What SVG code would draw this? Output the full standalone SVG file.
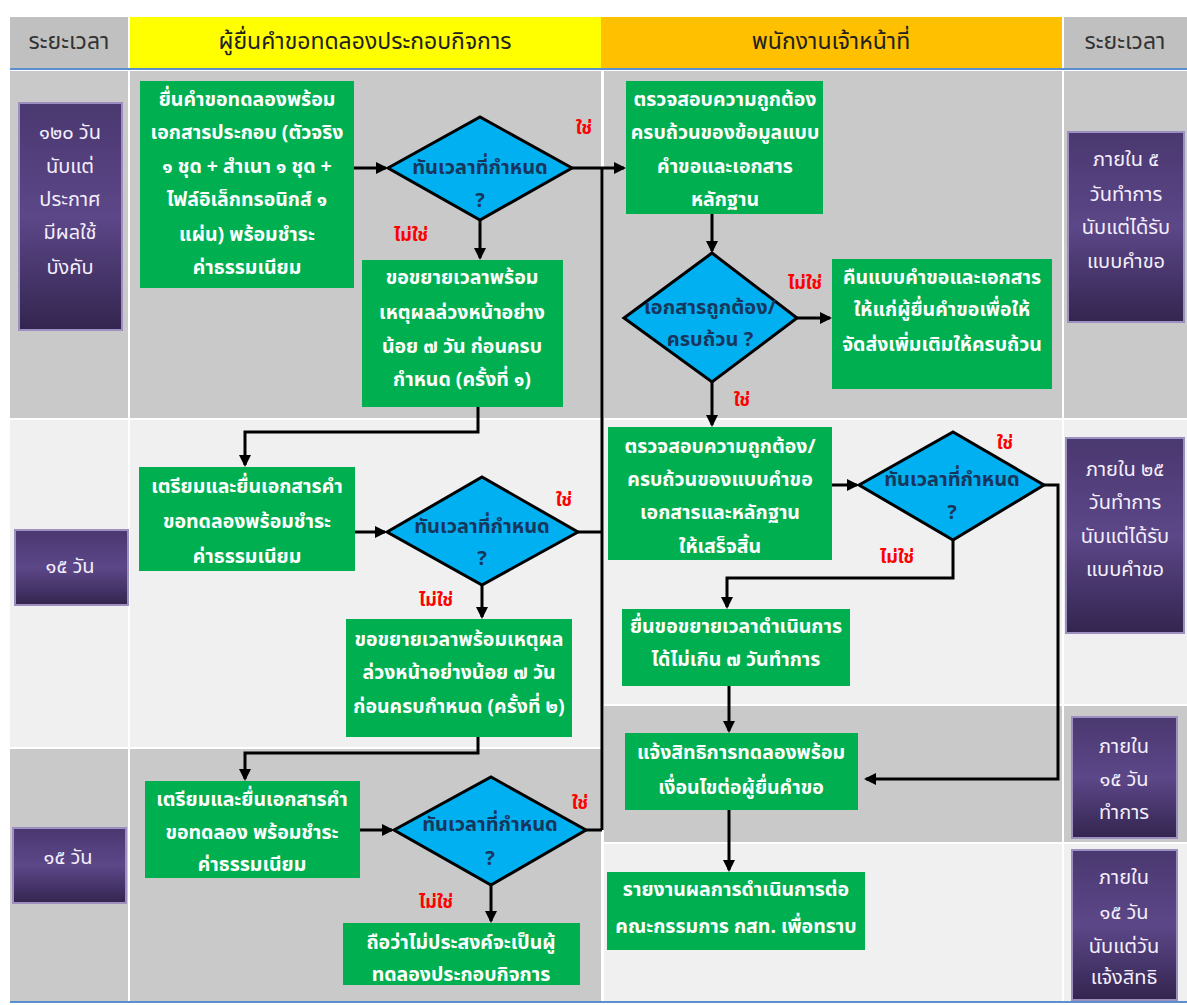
<svg xmlns="http://www.w3.org/2000/svg" width="1187" height="1005" viewBox="0 0 1187 1005">
<defs>
<style>
.hdr{font-family:"Noto Sans Thai","Noto Sans","DejaVu Sans",sans-serif;font-size:23px;text-anchor:middle;dominant-baseline:central}
.g{fill:#00b050}
.gt{font-family:"Noto Sans Thai","Noto Sans","DejaVu Sans",sans-serif;font-size:19.5px;font-weight:bold;fill:#ffffff;text-anchor:middle;dominant-baseline:central}
.d{fill:#00b0f0;stroke:#000;stroke-width:3;stroke-linejoin:miter}
.dt{font-family:"Noto Sans Thai","Noto Sans","DejaVu Sans",sans-serif;font-size:20px;font-weight:bold;fill:#17365d;text-anchor:middle;dominant-baseline:central}
.p{fill:url(#pg);stroke:#9d8fc0;stroke-width:2}
.pt{font-family:"Noto Sans Thai","Noto Sans","DejaVu Sans",sans-serif;font-size:20px;fill:#f4eefc;text-anchor:middle;dominant-baseline:central}
.lb{font-family:"Noto Sans Thai","Noto Sans","DejaVu Sans",sans-serif;font-size:18px;font-weight:bold;fill:#ff0000;text-anchor:middle;dominant-baseline:central}
.c{fill:none;stroke:#000;stroke-width:3}
.ca{fill:none;stroke:#000;stroke-width:3;marker-end:url(#ah)}
.bg1{fill:#c9c9c9}
.bg2{fill:#f0f0f0}
</style>
<linearGradient id="pg" x1="0" y1="0" x2="0" y2="1">
<stop offset="0" stop-color="#4a3870"/>
<stop offset="0.5" stop-color="#5c4788"/>
<stop offset="1" stop-color="#33254f"/>
</linearGradient>
<marker id="ah" markerWidth="12" markerHeight="12" refX="10" refY="6" orient="auto" markerUnits="userSpaceOnUse">
<path d="M0,0 L12,6 L0,12 Z" fill="#000"/>
</marker>
</defs>
<rect width="1187" height="1005" fill="#ffffff"/>
<g id="background">
<rect x="10" y="17" width="118" height="51" fill="#c0c0c0"/>
<rect x="130" y="17" width="471" height="51" fill="#ffff00"/>
<rect x="601" y="17" width="461" height="51" fill="#ffc000"/>
<rect x="1064" y="17" width="123" height="51" fill="#c0c0c0"/>
<rect x="10" y="68" width="1177" height="2" fill="#5b8fd0"/>
<rect class="bg1" x="10" y="71" width="118" height="347"/>
<rect class="bg1" x="130" y="71" width="471" height="347"/>
<rect class="bg1" x="604" y="71" width="458" height="347"/>
<rect class="bg1" x="1064" y="71" width="123" height="347"/>
<rect class="bg2" x="10" y="420" width="118" height="327"/>
<rect class="bg2" x="130" y="420" width="471" height="327"/>
<rect class="bg2" x="604" y="420" width="458" height="284"/>
<rect class="bg2" x="1064" y="420" width="123" height="284"/>
<rect class="bg1" x="10" y="749" width="118" height="252"/>
<rect class="bg1" x="130" y="749" width="471" height="252"/>
<rect class="bg1" x="604" y="706" width="458" height="136"/>
<rect class="bg1" x="1064" y="706" width="123" height="136"/>
<rect class="bg2" x="604" y="844" width="458" height="157"/>
<rect class="bg2" x="1064" y="844" width="123" height="157"/>
<rect x="10" y="1001" width="1177" height="2" fill="#5b8fd0"/>
<text class="hdr" x="69" y="42" fill="#333">ระยะเวลา</text>
<text class="hdr" x="365" y="42" fill="#222">ผู้ยื่นคำขอทดลองประกอบกิจการ</text>
<text class="hdr" x="831" y="42" fill="#222">พนักงานเจ้าหน้าที่</text>
<text class="hdr" x="1125" y="42" fill="#333">ระยะเวลา</text>
</g>
<g id="connectors">
<path class="ca" d="M354,168 H386"/>
<path class="ca" d="M572,168 H624"/>
<path class="c" d="M602,168 V830"/>
<path class="c" d="M578,532 H602"/>
<path class="c" d="M586,830 H602"/>
<path class="ca" d="M480,220 V258"/>
<path class="ca" d="M478,407 V432 H245 V465"/>
<path class="ca" d="M355,532 H385"/>
<path class="ca" d="M482,585 V617"/>
<path class="ca" d="M478,737 V753 H245 V779"/>
<path class="ca" d="M360,830 H392"/>
<path class="ca" d="M491,885 V921"/>
<path class="ca" d="M712,214 V251"/>
<path class="ca" d="M797,318 H830"/>
<path class="ca" d="M712,382 V425"/>
<path class="ca" d="M832,485 H857"/>
<path class="ca" d="M1044,485 H1058 V779 H866"/>
<path class="ca" d="M953,540 V578 H727 V607"/>
<path class="ca" d="M729,686 V731"/>
<path class="ca" d="M729,810 V870"/>
<text class="lb" x="584" y="128">ใช่</text>
<text class="lb" x="411" y="235">ไม่ใช่</text>
<text class="lb" x="564" y="500">ใช่</text>
<text class="lb" x="436" y="600">ไม่ใช่</text>
<text class="lb" x="580" y="803">ใช่</text>
<text class="lb" x="436" y="902">ไม่ใช่</text>
<text class="lb" x="805" y="283">ไม่ใช่</text>
<text class="lb" x="742" y="400">ใช่</text>
<text class="lb" x="1005" y="443">ใช่</text>
<text class="lb" x="897" y="557">ไม่ใช่</text>
</g>
<g id="L1"><rect class="p" x="19" y="103" width="103" height="227"/>
<text class="pt" x="70" y="133">๑๒๐ วัน</text><text class="pt" x="70" y="167">นับแต่</text><text class="pt" x="70" y="200">ประกาศ</text><text class="pt" x="70" y="233">มีผลใช้</text><text class="pt" x="70" y="268">บังคับ</text></g>
<g id="L2"><rect class="p" x="15" y="530" width="113" height="75"/><text class="pt" x="70" y="567">๑๕ วัน</text></g>
<g id="L3"><rect class="p" x="13" y="828" width="113" height="75"/><text class="pt" x="68" y="858">๑๕ วัน</text></g>
<g id="R1"><rect class="p" x="1068" y="132" width="116" height="190"/>
<text class="pt" x="1126" y="160">ภายใน ๕</text><text class="pt" x="1126" y="195">วันทำการ</text><text class="pt" x="1126" y="228">นับแต่ได้รับ</text><text class="pt" x="1126" y="262">แบบคำขอ</text></g>
<g id="R2"><rect class="p" x="1066" y="438" width="118" height="195"/>
<text class="pt" x="1125" y="470">ภายใน ๒๕</text><text class="pt" x="1125" y="503">วันทำการ</text><text class="pt" x="1125" y="537">นับแต่ได้รับ</text><text class="pt" x="1125" y="570">แบบคำขอ</text></g>
<g id="R3"><rect class="p" x="1072" y="717" width="105" height="121"/>
<text class="pt" x="1124" y="747">ภายใน</text><text class="pt" x="1124" y="780">๑๕ วัน</text><text class="pt" x="1124" y="813">ทำการ</text></g>
<g id="R4"><rect class="p" x="1072" y="850" width="105" height="150"/>
<text class="pt" x="1124" y="878">ภายใน</text><text class="pt" x="1124" y="913">๑๕ วัน</text><text class="pt" x="1124" y="947">นับแต่วัน</text><text class="pt" x="1124" y="978">แจ้งสิทธิ</text></g>
<g id="G1"><rect class="g" x="140" y="81" width="214" height="207"/>
<text class="gt" x="247" y="100">ยื่นคำขอทดลองพร้อม</text><text class="gt" x="247" y="133">เอกสารประกอบ (ตัวจริง</text><text class="gt" x="247" y="167">๑ ชุด + สำเนา  ๑ ชุด +</text><text class="gt" x="247" y="200">ไฟล์อิเล็กทรอนิกส์ ๑</text><text class="gt" x="247" y="235">แผ่น) พร้อมชำระ</text><text class="gt" x="247" y="268">ค่าธรรมเนียม</text></g>
<g id="D1"><polygon class="d" points="388,168 480,117 572,168 480,220"/>
<text class="dt" x="480" y="168">ทันเวลาที่กำหนด</text><text class="dt" x="480" y="201">?</text></g>
<g id="G2"><rect class="g" x="362" y="260" width="201" height="147"/>
<text class="gt" x="462" y="278">ขอขยายเวลาพร้อม</text><text class="gt" x="462" y="313">เหตุผลล่วงหน้าอย่าง</text><text class="gt" x="462" y="347">น้อย ๗ วัน ก่อนครบ</text><text class="gt" x="462" y="380">กำหนด (ครั้งที่ ๑)</text></g>
<g id="G3"><rect class="g" x="139" y="467" width="216" height="104"/>
<text class="gt" x="247" y="487">เตรียมและยื่นเอกสารคำ</text><text class="gt" x="247" y="522">ขอทดลองพร้อมชำระ</text><text class="gt" x="247" y="557">ค่าธรรมเนียม</text></g>
<g id="D2"><polygon class="d" points="387,532 482,477 578,532 482,585"/>
<text class="dt" x="482" y="527">ทันเวลาที่กำหนด</text><text class="dt" x="482" y="559">?</text></g>
<g id="G4"><rect class="g" x="346" y="619" width="226" height="118"/>
<text class="gt" x="459" y="640">ขอขยายเวลาพร้อมเหตุผล</text><text class="gt" x="459" y="673">ล่วงหน้าอย่างน้อย ๗ วัน</text><text class="gt" x="459" y="707">ก่อนครบกำหนด (ครั้งที่ ๒)</text></g>
<g id="G5"><rect class="g" x="145" y="781" width="215" height="97"/>
<text class="gt" x="252" y="800">เตรียมและยื่นเอกสารคำ</text><text class="gt" x="252" y="833">ขอทดลอง พร้อมชำระ</text><text class="gt" x="252" y="865">ค่าธรรมเนียม</text></g>
<g id="D3"><polygon class="d" points="394,830 491,777 586,830 491,885"/>
<text class="dt" x="490" y="825">ทันเวลาที่กำหนด</text><text class="dt" x="490" y="859">?</text></g>
<g id="G6"><rect class="g" x="343" y="923" width="237" height="62"/>
<text class="gt" x="461" y="943">ถือว่าไม่ประสงค์จะเป็นผู้</text><text class="gt" x="461" y="975">ทดลองประกอบกิจการ</text></g>
<g id="G7"><rect class="g" x="626" y="81" width="197" height="133"/>
<text class="gt" x="725" y="100">ตรวจสอบความถูกต้อง</text><text class="gt" x="725" y="133">ครบถ้วนของข้อมูลแบบ</text><text class="gt" x="725" y="167">คำขอและเอกสาร</text><text class="gt" x="725" y="200">หลักฐาน</text></g>
<g id="D4"><polygon class="d" points="624,318 712,253 797,318 712,382"/>
<text class="dt" x="710" y="308">เอกสารถูกต้อง/</text><text class="dt" x="710" y="340">ครบถ้วน ?</text></g>
<g id="G8"><rect class="g" x="832" y="259" width="220" height="130"/>
<text class="gt" x="942" y="278">คืนแบบคำขอและเอกสาร</text><text class="gt" x="942" y="310">ให้แก่ผู้ยื่นคำขอเพื่อให้</text><text class="gt" x="942" y="345">จัดส่งเพิ่มเติมให้ครบถ้วน</text></g>
<g id="G9"><rect class="g" x="608" y="427" width="224" height="133"/>
<text class="gt" x="720" y="447">ตรวจสอบความถูกต้อง/</text><text class="gt" x="720" y="480">ครบถ้วนของแบบคำขอ</text><text class="gt" x="720" y="513">เอกสารและหลักฐาน</text><text class="gt" x="720" y="547">ให้เสร็จสิ้น</text></g>
<g id="D5"><polygon class="d" points="859,485 953,432 1044,485 953,540"/>
<text class="dt" x="952" y="480">ทันเวลาที่กำหนด</text><text class="dt" x="952" y="513">?</text></g>
<g id="G10"><rect class="g" x="622" y="609" width="228" height="77"/>
<text class="gt" x="736" y="627">ยื่นขอขยายเวลาดำเนินการ</text><text class="gt" x="736" y="660">ได้ไม่เกิน ๗ วันทำการ</text></g>
<g id="G11"><rect class="g" x="625" y="733" width="233" height="77"/>
<text class="gt" x="741" y="753">แจ้งสิทธิการทดลองพร้อม</text><text class="gt" x="741" y="788">เงื่อนไขต่อผู้ยื่นคำขอ</text></g>
<g id="G12"><rect class="g" x="607" y="872" width="258" height="78"/>
<text class="gt" x="736" y="890">รายงานผลการดำเนินการต่อ</text><text class="gt" x="736" y="927">คณะกรรมการ กสท. เพื่อทราบ</text></g>
</svg>
